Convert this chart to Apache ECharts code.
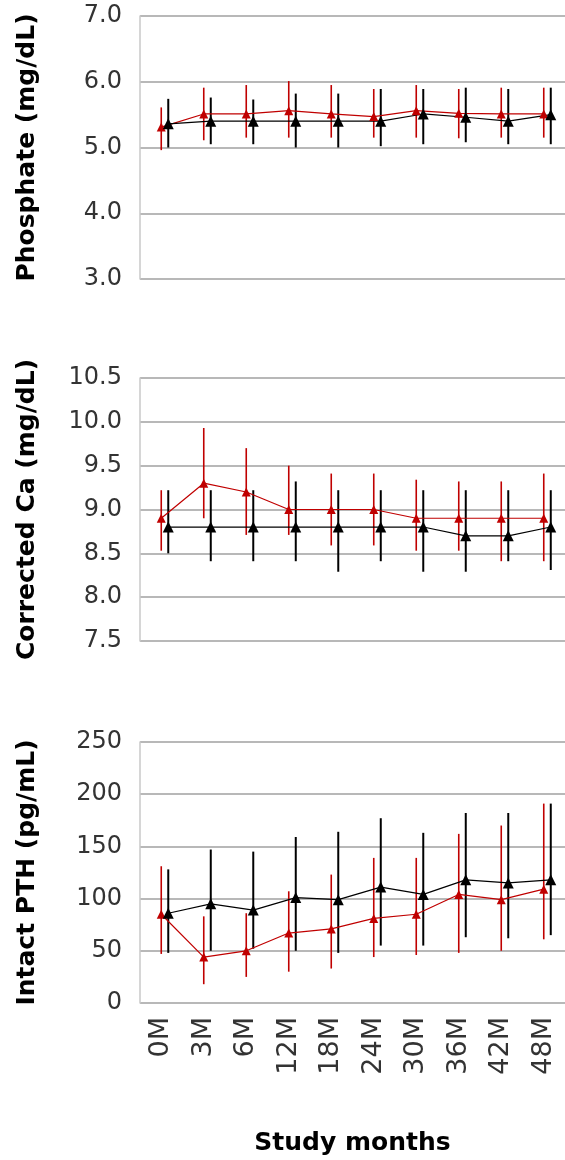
<!DOCTYPE html>
<html><head><meta charset="utf-8">
<script src="https://cdn.jsdelivr.net/npm/echarts@6/dist/echarts.min.js"></script>
<style>html,body{margin:0;padding:0;background:#fff}#c{width:565px;height:1160px}</style>
</head><body><div id="c"></div>
<script>
const categories = ['0M','3M','6M','12M','18M','24M','30M','36M','42M','48M'];

const phosRedMean = [5.31,5.51,5.51,5.56,5.51,5.47,5.56,5.52,5.51,5.51];
const phosRedLo   = [4.96,5.11,5.15,5.15,5.15,5.15,5.15,5.14,5.15,5.15];
const phosRedHi   = [5.61,5.91,5.95,6.01,5.95,5.89,5.95,5.89,5.91,5.91];
const phosBlkMean = [5.36,5.40,5.40,5.40,5.40,5.40,5.51,5.46,5.40,5.50];
const phosBlkLo   = [5.00,5.05,5.05,5.00,5.00,5.02,5.05,5.08,5.05,5.05];
const phosBlkHi   = [5.74,5.76,5.73,5.82,5.82,5.89,5.89,5.91,5.89,5.91];

const caRedMean = [8.9,9.3,9.2,9.0,9.0,9.0,8.9,8.9,8.9,8.9];
const caRedLo   = [8.53,8.90,8.71,8.71,8.59,8.59,8.53,8.53,8.41,8.41];
const caRedHi   = [9.22,9.93,9.70,9.50,9.41,9.41,9.34,9.32,9.32,9.41];
const caBlkMean = [8.8,8.8,8.8,8.8,8.8,8.8,8.8,8.7,8.7,8.8];
const caBlkLo   = [8.50,8.41,8.41,8.41,8.29,8.41,8.29,8.29,8.41,8.31];
const caBlkHi   = [9.22,9.22,9.22,9.32,9.22,9.22,9.22,9.22,9.22,9.22];

const pthRedMean = [85,44,50,67,71,81,85,104,99,109];
const pthRedLo   = [47,18,25,30,33,44,46,48,50,61];
const pthRedHi   = [131,83,86,107,123,139,139,162,170,191];
const pthBlkMean = [86,95,89,101,99,111,104,118,115,118];
const pthBlkLo   = [48,50,52,50,48,55,55,63,62,65];
const pthBlkHi   = [128,147,145,159,164,177,163,182,182,191];

const yTitles = ['Phosphate (mg/dL)','Corrected Ca (mg/dL)','Intact PTH (pg/mL)'];
const xTitle = 'Study months';

const RED = '#c00000', BLK = '#000000';
const BLACK_SHIFT = 0.165;
const panels = [
  {top:16,  height:263, min:3,   max:7,    interval:1,   dec:1, red:[phosRedMean,phosRedLo,phosRedHi], blk:[phosBlkMean,phosBlkLo,phosBlkHi]},
  {top:378, height:263, min:7.5, max:10.5, interval:0.5, dec:1, red:[caRedMean,caRedLo,caRedHi],       blk:[caBlkMean,caBlkLo,caBlkHi]},
  {top:742, height:261, min:0,   max:250,  interval:50,  dec:0, red:[pthRedMean,pthRedLo,pthRedHi],    blk:[pthBlkMean,pthBlkLo,pthBlkHi]}
];

const tickFont = {fontFamily:'DejaVu Sans', fontSize:24, color:'#333'};
const titleFont = {fontFamily:'DejaVu Sans', fontWeight:'bold', fontSize:25, color:'#000'};

const grid = [], xAxis = [], yAxis = [], series = [];
panels.forEach((p, k) => {
  grid.push({left:140, right:0, top:p.top, height:p.height, containLabel:false});
  xAxis.push({type:'value', gridIndex:k, min:-0.5, max:9.5, show:false, position:'top'});
  xAxis.push({type:'category', gridIndex:k, data:categories, boundaryGap:true, position:'bottom',
    axisLine:{show:false, onZero:false}, axisTick:{show:false}, splitLine:{show:false},
    axisLabel:{show:k===2, rotate:90, margin:14, ...tickFont, fontSize:27},
    name: k===2 ? xTitle : '', nameLocation:'middle', nameGap:128, nameTextStyle:titleFont});
  yAxis.push({type:'value', gridIndex:k, min:p.min, max:p.max, interval:p.interval, position:'left',
    axisLine:{show:true, onZero:false, lineStyle:{color:'#c8c8c8', width:1.5}},
    axisTick:{show:false},
    splitLine:{show:true, lineStyle:{color:'#a0a0a0', width:1.5}},
    axisLabel:{margin:18, ...tickFont, formatter:v => v.toFixed(p.dec)},
    name:yTitles[k], nameLocation:'middle', nameGap:100, nameTextStyle:titleFont});

  const mk = (arr, shift) => arr[0].map((m, i) => [i + shift, m]);
  const eb = (arr, shift) => arr[0].map((m, i) => [i + shift, arr[1][i], arr[2][i]]);
  const errSeries = (arr, shift, color, w) => ({
    type:'custom', xAxisIndex:2*k, yAxisIndex:k, data:eb(arr, shift), silent:true,
    renderItem:(params, api) => {
      const a = api.coord([api.value(0), api.value(1)]);
      const b = api.coord([api.value(0), api.value(2)]);
      return {type:'line', shape:{x1:a[0], y1:a[1], x2:b[0], y2:b[1]}, style:{stroke:color, lineWidth:w}};
    }
  });
  const lineSeries = (arr, shift, color, size) => ({
    type:'line', xAxisIndex:2*k, yAxisIndex:k, data:mk(arr, shift),
    symbol:'triangle', symbolSize:size, showSymbol:true,
    lineStyle:{color, width:1.2}, itemStyle:{color},
    animation:false, silent:true
  });
  series.push(errSeries(p.red, 0, RED, 1.6));
  series.push(lineSeries(p.red, 0, RED, 9));
  series.push(errSeries(p.blk, BLACK_SHIFT, BLK, 2));
  series.push(lineSeries(p.blk, BLACK_SHIFT, BLK, 11));
});

const chart = echarts.init(document.getElementById('c'));
chart.setOption({animation:false, grid, xAxis, yAxis, series});
</script></body></html>
